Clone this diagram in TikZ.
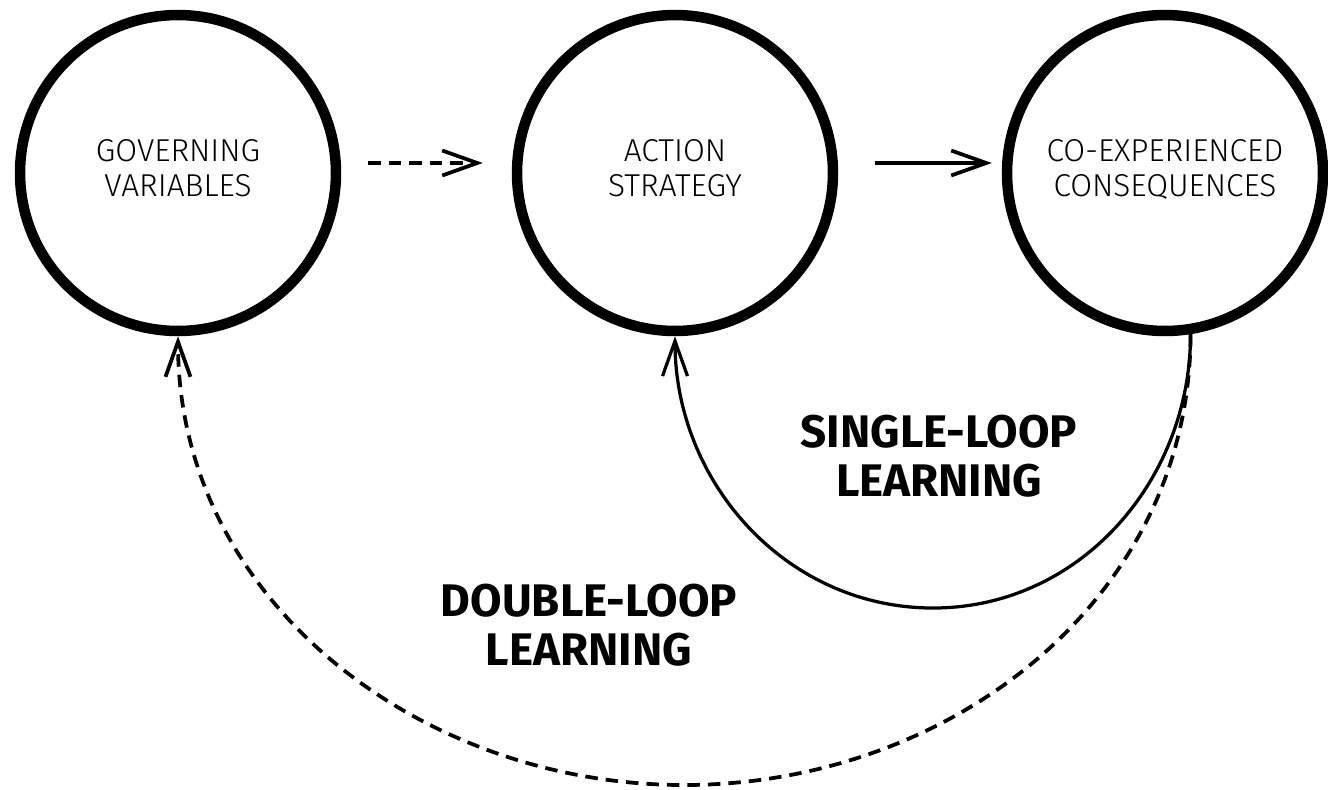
\documentclass[tikz,border=0pt]{standalone}
\usepackage{fontspec}
\setmainfont{Fira Sans}[UprightFont=* Light, BoldFont=* Bold]
\usetikzlibrary{arrows.meta}

\begin{document}
\begin{tikzpicture}[x=0.02cm,y=0.02cm,
  >={Straight Barb[length=7mm,width=5mm]},
  state/.style={circle,draw,line width=0.21cm,minimum size=6.32cm,inner sep=0pt,align=center,text depth=6pt,font=\fontsize{18}{20}\selectfont},
  loopname/.style={align=center,font=\fontsize{26}{27.5}\selectfont\bfseries},
  dsh/.style={dash pattern=on 0.25cm off 0.16cm}]
\useasboundingbox (0,0) rectangle (1328,-789);

\node[state] (gov) at (178,-173) {GOVERNING\\VARIABLES};
\node[state] (act) at (675,-173) {ACTION\\STRATEGY};
\node[state] (cons) at (1165,-173) {CO-EXPERIENCED\\CONSEQUENCES};

\node[loopname] (sll) at (939,-456) {SINGLE-LOOP\\LEARNING};
\node[loopname] (dll) at (589,-625) {DOUBLE-LOOP\\LEARNING};

\coordinate (sb) at (933,-608);
\coordinate (db) at (684,-785);

\draw[->,line width=0.075cm,dsh,shorten <=0.54cm,shorten >=0.58cm] ([yshift=0.2cm]gov.east) -- ([yshift=0.2cm]act.west);
\draw[->,line width=0.075cm,shorten <=0.74cm,shorten >=0.2cm] ([yshift=0.2cm]act.east) -- ([yshift=0.2cm]cons.west);
\draw[->,line width=0.065cm] (cons.-81) to[out=-90,in=0] (sb) to[out=180,in=-90] (act.south);
\draw[->,line width=0.075cm,dsh] (cons.-81) to[out=-90,in=0] (db) to[out=180,in=-90] (gov.south);
\end{tikzpicture}
\end{document}
